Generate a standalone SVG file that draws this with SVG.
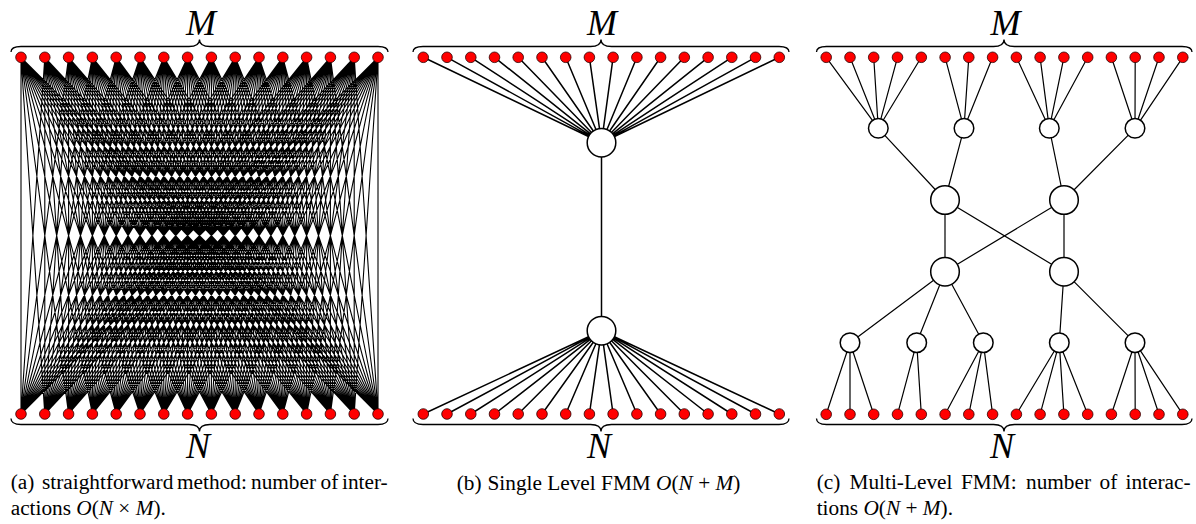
<svg xmlns="http://www.w3.org/2000/svg" width="1196" height="524" viewBox="0 0 1196 524">
<style>
.dot{fill:#ff0000;stroke:#2a0000;stroke-width:0.8}
.node{fill:#fff;stroke:#000;stroke-width:1.5}
.la{fill:none;stroke:#000;stroke-width:1.1}
.lb{fill:none;stroke:#000;stroke-width:1.5}
.lc{fill:none;stroke:#000;stroke-width:1.2}
.brace{fill:none;stroke:#000;stroke-width:1.3}
.lbl{font-family:"Liberation Serif","Times New Roman",serif;font-style:italic;font-size:36px;text-anchor:middle}
.cap{font-family:"Liberation Serif","Times New Roman",serif;font-size:21.3px}
.it{font-style:italic}
</style>
<defs>
<circle id="dot" class="dot" r="5.3"/>
</defs>
<g id="connectors">
<path class="la" vector-effect="non-scaling-stroke" transform="translate(21,57.3) scale(23.8,356.7)" d="M0 0L0 1M0 0L1 1M0 0L2 1M0 0L3 1M0 0L4 1M0 0L5 1M0 0L6 1M0 0L7 1M0 0L8 1M0 0L9 1M0 0L10 1M0 0L11 1M0 0L12 1M0 0L13 1M0 0L14 1M0 0L15 1
M1 0L0 1M1 0L1 1M1 0L2 1M1 0L3 1M1 0L4 1M1 0L5 1M1 0L6 1M1 0L7 1M1 0L8 1M1 0L9 1M1 0L10 1M1 0L11 1M1 0L12 1M1 0L13 1M1 0L14 1M1 0L15 1
M2 0L0 1M2 0L1 1M2 0L2 1M2 0L3 1M2 0L4 1M2 0L5 1M2 0L6 1M2 0L7 1M2 0L8 1M2 0L9 1M2 0L10 1M2 0L11 1M2 0L12 1M2 0L13 1M2 0L14 1M2 0L15 1
M3 0L0 1M3 0L1 1M3 0L2 1M3 0L3 1M3 0L4 1M3 0L5 1M3 0L6 1M3 0L7 1M3 0L8 1M3 0L9 1M3 0L10 1M3 0L11 1M3 0L12 1M3 0L13 1M3 0L14 1M3 0L15 1
M4 0L0 1M4 0L1 1M4 0L2 1M4 0L3 1M4 0L4 1M4 0L5 1M4 0L6 1M4 0L7 1M4 0L8 1M4 0L9 1M4 0L10 1M4 0L11 1M4 0L12 1M4 0L13 1M4 0L14 1M4 0L15 1
M5 0L0 1M5 0L1 1M5 0L2 1M5 0L3 1M5 0L4 1M5 0L5 1M5 0L6 1M5 0L7 1M5 0L8 1M5 0L9 1M5 0L10 1M5 0L11 1M5 0L12 1M5 0L13 1M5 0L14 1M5 0L15 1
M6 0L0 1M6 0L1 1M6 0L2 1M6 0L3 1M6 0L4 1M6 0L5 1M6 0L6 1M6 0L7 1M6 0L8 1M6 0L9 1M6 0L10 1M6 0L11 1M6 0L12 1M6 0L13 1M6 0L14 1M6 0L15 1
M7 0L0 1M7 0L1 1M7 0L2 1M7 0L3 1M7 0L4 1M7 0L5 1M7 0L6 1M7 0L7 1M7 0L8 1M7 0L9 1M7 0L10 1M7 0L11 1M7 0L12 1M7 0L13 1M7 0L14 1M7 0L15 1
M8 0L0 1M8 0L1 1M8 0L2 1M8 0L3 1M8 0L4 1M8 0L5 1M8 0L6 1M8 0L7 1M8 0L8 1M8 0L9 1M8 0L10 1M8 0L11 1M8 0L12 1M8 0L13 1M8 0L14 1M8 0L15 1
M9 0L0 1M9 0L1 1M9 0L2 1M9 0L3 1M9 0L4 1M9 0L5 1M9 0L6 1M9 0L7 1M9 0L8 1M9 0L9 1M9 0L10 1M9 0L11 1M9 0L12 1M9 0L13 1M9 0L14 1M9 0L15 1
M10 0L0 1M10 0L1 1M10 0L2 1M10 0L3 1M10 0L4 1M10 0L5 1M10 0L6 1M10 0L7 1M10 0L8 1M10 0L9 1M10 0L10 1M10 0L11 1M10 0L12 1M10 0L13 1M10 0L14 1M10 0L15 1
M11 0L0 1M11 0L1 1M11 0L2 1M11 0L3 1M11 0L4 1M11 0L5 1M11 0L6 1M11 0L7 1M11 0L8 1M11 0L9 1M11 0L10 1M11 0L11 1M11 0L12 1M11 0L13 1M11 0L14 1M11 0L15 1
M12 0L0 1M12 0L1 1M12 0L2 1M12 0L3 1M12 0L4 1M12 0L5 1M12 0L6 1M12 0L7 1M12 0L8 1M12 0L9 1M12 0L10 1M12 0L11 1M12 0L12 1M12 0L13 1M12 0L14 1M12 0L15 1
M13 0L0 1M13 0L1 1M13 0L2 1M13 0L3 1M13 0L4 1M13 0L5 1M13 0L6 1M13 0L7 1M13 0L8 1M13 0L9 1M13 0L10 1M13 0L11 1M13 0L12 1M13 0L13 1M13 0L14 1M13 0L15 1
M14 0L0 1M14 0L1 1M14 0L2 1M14 0L3 1M14 0L4 1M14 0L5 1M14 0L6 1M14 0L7 1M14 0L8 1M14 0L9 1M14 0L10 1M14 0L11 1M14 0L12 1M14 0L13 1M14 0L14 1M14 0L15 1
M15 0L0 1M15 0L1 1M15 0L2 1M15 0L3 1M15 0L4 1M15 0L5 1M15 0L6 1M15 0L7 1M15 0L8 1M15 0L9 1M15 0L10 1M15 0L11 1M15 0L12 1M15 0L13 1M15 0L14 1M15 0L15 1"/>
<path class="lb" d="M423.3 57.3L601.5 142.7M447 57.3L601.5 142.7M470.8 57.3L601.5 142.7M494.5 57.3L601.5 142.7M518.2 57.3L601.5 142.7M542 57.3L601.5 142.7M565.7 57.3L601.5 142.7M589.4 57.3L601.5 142.7M613.1 57.3L601.5 142.7M636.9 57.3L601.5 142.7M660.6 57.3L601.5 142.7M684.3 57.3L601.5 142.7M708.1 57.3L601.5 142.7M731.8 57.3L601.5 142.7M755.5 57.3L601.5 142.7M779.3 57.3L601.5 142.7
M423.3 414L601.5 330.7M447 414L601.5 330.7M470.8 414L601.5 330.7M494.5 414L601.5 330.7M518.2 414L601.5 330.7M542 414L601.5 330.7M565.7 414L601.5 330.7M589.4 414L601.5 330.7M613.1 414L601.5 330.7M636.9 414L601.5 330.7M660.6 414L601.5 330.7M684.3 414L601.5 330.7M708.1 414L601.5 330.7M731.8 414L601.5 330.7M755.5 414L601.5 330.7M779.3 414L601.5 330.7"/>
<path class="lb" stroke-width="2" d="M601.5 142.7V330.7"/>
<path class="lc" d="M826.2 57.3L878.3 128.3M850 57.3L878.3 128.3M873.7 57.3L878.3 128.3M897.5 57.3L878.3 128.3M921.3 57.3L878.3 128.3
M945.1 57.3L964 128.3M968.8 57.3L964 128.3M992.6 57.3L964 128.3
M1016.4 57.3L1049.3 128.3M1040.1 57.3L1049.3 128.3M1063.9 57.3L1049.3 128.3M1087.7 57.3L1049.3 128.3
M1111.4 57.3L1135 128.3M1135.2 57.3L1135 128.3M1159 57.3L1135 128.3M1182.8 57.3L1135 128.3
M878.3 128.3L945 200M964 128.3L945 200M1049.3 128.3L1064 200M1135 128.3L1064 200
M945 200L945 271.7M945 200L1064 271.7M1064 200L1064 271.7M1064 200L945 271.7
M945 271.7L850 342.7M945 271.7L916.7 342.7M945 271.7L983.3 342.7M1064 271.7L1059.3 342.7M1064 271.7L1135 342.7
M850 342.7L826.2 414.3M850 342.7L850 414.3M850 342.7L873.7 414.3
M916.7 342.7L897.5 414.3M916.7 342.7L921.3 414.3
M983.3 342.7L945.1 414.3M983.3 342.7L968.8 414.3M983.3 342.7L992.6 414.3
M1059.3 342.7L1016.4 414.3M1059.3 342.7L1040.1 414.3M1059.3 342.7L1063.9 414.3M1059.3 342.7L1087.7 414.3
M1135 342.7L1111.4 414.3M1135 342.7L1135.2 414.3M1135 342.7L1159 414.3M1135 342.7L1182.8 414.3"/>
</g>
<g id="braces">
<path class="brace" d="M11 52C11 48.5 13.5 46.5 21 46.5H189C196 46.5 199.5 44.5 199.5 39.5C199.5 44.5 203 46.5 210 46.5H378C385.5 46.5 388 48.5 388 52"/>
<path class="brace" d="M11 418.5C11 422 13.5 424.5 21 424.5H189C196 424.5 199.5 426.5 199.5 431.5C199.5 426.5 203 424.5 210 424.5H378C385.5 424.5 388 422 388 418.5"/>
<path class="brace" d="M413 52C413 48.5 415.5 46.5 423 46.5H590.5C597.5 46.5 601 44.5 601 39.5C601 44.5 604.5 46.5 611.5 46.5H779C786.5 46.5 789 48.5 789 52"/>
<path class="brace" d="M413 418.5C413 422 415.5 424.5 423 424.5H590.5C597.5 424.5 601 426.5 601 431.5C601 426.5 604.5 424.5 611.5 424.5H779C786.5 424.5 789 422 789 418.5"/>
<path class="brace" d="M816.5 52C816.5 48.5 819 46.5 826.5 46.5H993.5C1000.5 46.5 1004 44.5 1004 39.5C1004 44.5 1007.5 46.5 1014.5 46.5H1182C1189.5 46.5 1192 48.5 1192 52"/>
<path class="brace" d="M816.5 418.5C816.5 422 819 424.5 826.5 424.5H993.5C1000.5 424.5 1004 426.5 1004 431.5C1004 426.5 1007.5 424.5 1014.5 424.5H1182C1189.5 424.5 1192 422 1192 418.5"/>
</g>
<g id="a-top">
<use href="#dot" x="21" y="57.3"/><use href="#dot" x="44.8" y="57.3"/><use href="#dot" x="68.6" y="57.3"/><use href="#dot" x="92.4" y="57.3"/><use href="#dot" x="116.2" y="57.3"/><use href="#dot" x="140" y="57.3"/><use href="#dot" x="163.8" y="57.3"/><use href="#dot" x="187.6" y="57.3"/><use href="#dot" x="211.4" y="57.3"/><use href="#dot" x="235.2" y="57.3"/><use href="#dot" x="259" y="57.3"/><use href="#dot" x="282.8" y="57.3"/><use href="#dot" x="306.6" y="57.3"/><use href="#dot" x="330.4" y="57.3"/><use href="#dot" x="354.2" y="57.3"/><use href="#dot" x="378" y="57.3"/>
</g>
<g id="a-bottom">
<use href="#dot" x="21" y="414"/><use href="#dot" x="44.8" y="414"/><use href="#dot" x="68.6" y="414"/><use href="#dot" x="92.4" y="414"/><use href="#dot" x="116.2" y="414"/><use href="#dot" x="140" y="414"/><use href="#dot" x="163.8" y="414"/><use href="#dot" x="187.6" y="414"/><use href="#dot" x="211.4" y="414"/><use href="#dot" x="235.2" y="414"/><use href="#dot" x="259" y="414"/><use href="#dot" x="282.8" y="414"/><use href="#dot" x="306.6" y="414"/><use href="#dot" x="330.4" y="414"/><use href="#dot" x="354.2" y="414"/><use href="#dot" x="378" y="414"/>
</g>
<g id="b-top">
<use href="#dot" x="423.3" y="57.3"/><use href="#dot" x="447" y="57.3"/><use href="#dot" x="470.8" y="57.3"/><use href="#dot" x="494.5" y="57.3"/><use href="#dot" x="518.2" y="57.3"/><use href="#dot" x="542" y="57.3"/><use href="#dot" x="565.7" y="57.3"/><use href="#dot" x="589.4" y="57.3"/><use href="#dot" x="613.1" y="57.3"/><use href="#dot" x="636.9" y="57.3"/><use href="#dot" x="660.6" y="57.3"/><use href="#dot" x="684.3" y="57.3"/><use href="#dot" x="708.1" y="57.3"/><use href="#dot" x="731.8" y="57.3"/><use href="#dot" x="755.5" y="57.3"/><use href="#dot" x="779.3" y="57.3"/>
</g>
<g id="b-bottom">
<use href="#dot" x="423.3" y="414"/><use href="#dot" x="447" y="414"/><use href="#dot" x="470.8" y="414"/><use href="#dot" x="494.5" y="414"/><use href="#dot" x="518.2" y="414"/><use href="#dot" x="542" y="414"/><use href="#dot" x="565.7" y="414"/><use href="#dot" x="589.4" y="414"/><use href="#dot" x="613.1" y="414"/><use href="#dot" x="636.9" y="414"/><use href="#dot" x="660.6" y="414"/><use href="#dot" x="684.3" y="414"/><use href="#dot" x="708.1" y="414"/><use href="#dot" x="731.8" y="414"/><use href="#dot" x="755.5" y="414"/><use href="#dot" x="779.3" y="414"/>
</g>
<g id="b-node-top"><circle class="node" cx="601.5" cy="142.7" r="14.3"/></g>
<g id="b-node-bottom"><circle class="node" cx="601.5" cy="330.7" r="14.3"/></g>
<g id="c-top">
<use href="#dot" x="826.2" y="57.3"/><use href="#dot" x="850" y="57.3"/><use href="#dot" x="873.7" y="57.3"/><use href="#dot" x="897.5" y="57.3"/><use href="#dot" x="921.3" y="57.3"/><use href="#dot" x="945.1" y="57.3"/><use href="#dot" x="968.8" y="57.3"/><use href="#dot" x="992.6" y="57.3"/><use href="#dot" x="1016.4" y="57.3"/><use href="#dot" x="1040.1" y="57.3"/><use href="#dot" x="1063.9" y="57.3"/><use href="#dot" x="1087.7" y="57.3"/><use href="#dot" x="1111.4" y="57.3"/><use href="#dot" x="1135.2" y="57.3"/><use href="#dot" x="1159" y="57.3"/><use href="#dot" x="1182.8" y="57.3"/>
</g>
<g id="c-bottom">
<use href="#dot" x="826.2" y="414.3"/><use href="#dot" x="850" y="414.3"/><use href="#dot" x="873.7" y="414.3"/><use href="#dot" x="897.5" y="414.3"/><use href="#dot" x="921.3" y="414.3"/><use href="#dot" x="945.1" y="414.3"/><use href="#dot" x="968.8" y="414.3"/><use href="#dot" x="992.6" y="414.3"/><use href="#dot" x="1016.4" y="414.3"/><use href="#dot" x="1040.1" y="414.3"/><use href="#dot" x="1063.9" y="414.3"/><use href="#dot" x="1087.7" y="414.3"/><use href="#dot" x="1111.4" y="414.3"/><use href="#dot" x="1135.2" y="414.3"/><use href="#dot" x="1159" y="414.3"/><use href="#dot" x="1182.8" y="414.3"/>
</g>
<g id="c-l1">
<circle class="node" cx="878.3" cy="128.3" r="9.8"/><circle class="node" cx="964" cy="128.3" r="9.8"/><circle class="node" cx="1049.3" cy="128.3" r="9.8"/><circle class="node" cx="1135" cy="128.3" r="9.8"/>
</g>
<g id="c-l2">
<circle class="node" cx="945" cy="200" r="14.3"/><circle class="node" cx="1064" cy="200" r="14.3"/>
</g>
<g id="c-l3">
<circle class="node" cx="945" cy="271.7" r="14.3"/><circle class="node" cx="1064" cy="271.7" r="14.3"/>
</g>
<g id="c-l4">
<circle class="node" cx="850" cy="342.7" r="9.8"/><circle class="node" cx="916.7" cy="342.7" r="9.8"/><circle class="node" cx="983.3" cy="342.7" r="9.8"/><circle class="node" cx="1059.3" cy="342.7" r="9.8"/><circle class="node" cx="1135" cy="342.7" r="9.8"/>
</g>
<g id="labels">
<text class="lbl" x="201" y="35">M</text>
<text class="lbl" x="198" y="458">N</text>
<text class="lbl" x="602" y="35">M</text>
<text class="lbl" x="599" y="458">N</text>
<text class="lbl" x="1005.5" y="35">M</text>
<text class="lbl" x="1002" y="458">N</text>
</g>
<g id="captions" class="cap">
<text y="489"><tspan x="10.7">(a)</tspan><tspan x="42">straightforward</tspan><tspan x="177">method:</tspan><tspan x="251">number</tspan><tspan x="320.5">of</tspan><tspan x="342">inter-</tspan></text>
<text x="10.7" y="515">actions <tspan class="it">O</tspan>(<tspan class="it">N</tspan> × <tspan class="it">M</tspan>).</text>
<text x="598.5" y="490" text-anchor="middle">(b)<tspan dx="6">Single Level FMM </tspan><tspan class="it">O</tspan>(<tspan class="it">N</tspan> + <tspan class="it">M</tspan>)</text>
<text y="489"><tspan x="816.7">(c)</tspan><tspan x="849.5">Multi-Level</tspan><tspan x="961">FMM:</tspan><tspan x="1026">number</tspan><tspan x="1099.5">of</tspan><tspan x="1125.5">interac-</tspan></text>
<text x="816.7" y="515">tions <tspan class="it">O</tspan>(<tspan class="it">N</tspan> + <tspan class="it">M</tspan>).</text>
</g>
</svg>
